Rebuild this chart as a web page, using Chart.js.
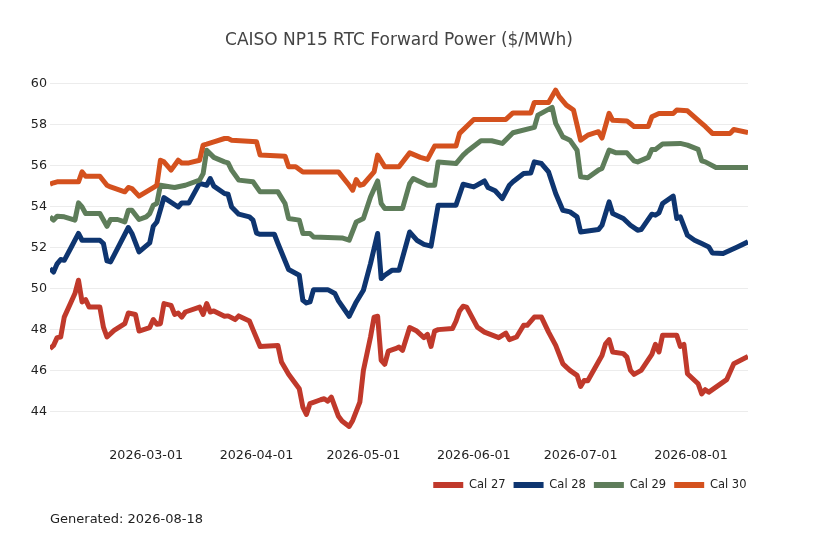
<!DOCTYPE html>
<html><head><meta charset="utf-8">
<script src="https://cdn.jsdelivr.net/npm/chart.js@4.4.1/dist/chart.umd.min.js"></script>
<style>html,body{margin:0;padding:0;background:#fff;}</style>
</head><body>
<canvas id="c" width="818" height="545"></canvas>
<script>
const titleText = "CAISO NP15 RTC Forward Power ($/MWh)";
const footText = "Generated: 2026-08-18";
const seriesNames = ["Cal 27", "Cal 28", "Cal 29", "Cal 30"];
const seriesColors = ["#c0392b", "#0e3570", "#5e7d5a", "#d4511e"];
const xTickDates = ["2026-03-01","2026-04-01","2026-05-01","2026-06-01","2026-07-01","2026-08-01"];
const yTickValues = [44, 46, 48, 50, 52, 54, 56, 58, 60];
const xStart = "2026-02-02", xEnd = "2026-08-17";

const cal27 = [["2026-02-02",47.06],["2026-02-03",47.22],["2026-02-04",47.6],["2026-02-05",47.63],["2026-02-06",48.6],["2026-02-09",49.75],["2026-02-10",50.4],["2026-02-11",49.34],["2026-02-12",49.45],["2026-02-13",49.09],["2026-02-16",49.09],["2026-02-17",48.11],["2026-02-18",47.63],["2026-02-20",47.95],["2026-02-23",48.28],["2026-02-24",48.8],["2026-02-26",48.73],["2026-02-27",47.92],["2026-03-02",48.09],["2026-03-03",48.48],["2026-03-04",48.25],["2026-03-05",48.28],["2026-03-06",49.26],["2026-03-08",49.17],["2026-03-09",48.73],["2026-03-10",48.8],["2026-03-11",48.6],["2026-03-12",48.85],["2026-03-16",49.09],["2026-03-17",48.73],["2026-03-18",49.26],["2026-03-19",48.85],["2026-03-20",48.9],["2026-03-23",48.64],["2026-03-24",48.66],["2026-03-26",48.48],["2026-03-27",48.66],["2026-03-30",48.41],["2026-03-31",47.99],["2026-04-02",47.17],["2026-04-07",47.22],["2026-04-08",46.41],["2026-04-10",45.81],["2026-04-13",45.11],["2026-04-14",44.21],["2026-04-15",43.85],["2026-04-16",44.38],["2026-04-19",44.57],["2026-04-20",44.62],["2026-04-21",44.5],["2026-04-22",44.7],["2026-04-24",43.76],["2026-04-25",43.53],["2026-04-27",43.27],["2026-04-28",43.56],["2026-04-30",44.45],["2026-05-01",46.0],["2026-05-03",47.63],["2026-05-04",48.6],["2026-05-05",48.64],["2026-05-06",46.49],["2026-05-07",46.3],["2026-05-08",46.94],["2026-05-10",47.06],["2026-05-11",47.14],["2026-05-12",46.98],["2026-05-14",48.09],["2026-05-16",47.92],["2026-05-18",47.6],["2026-05-19",47.76],["2026-05-20",47.17],["2026-05-21",47.92],["2026-05-22",47.99],["2026-05-26",48.04],["2026-05-27",48.4],["2026-05-28",48.9],["2026-05-29",49.13],["2026-05-30",49.09],["2026-06-02",48.11],["2026-06-04",47.87],["2026-06-08",47.6],["2026-06-10",47.82],["2026-06-11",47.5],["2026-06-13",47.63],["2026-06-15",48.2],["2026-06-16",48.2],["2026-06-18",48.6],["2026-06-20",48.6],["2026-06-22",47.87],["2026-06-24",47.22],["2026-06-26",46.33],["2026-06-27",46.16],["2026-06-28",46.0],["2026-06-30",45.76],["2026-07-01",45.22],["2026-07-02",45.51],["2026-07-03",45.5],["2026-07-07",46.73],["2026-07-08",47.3],["2026-07-09",47.5],["2026-07-10",46.9],["2026-07-13",46.82],["2026-07-14",46.65],["2026-07-15",46.0],["2026-07-16",45.81],["2026-07-18",46.0],["2026-07-21",46.78],["2026-07-22",47.27],["2026-07-23",46.9],["2026-07-24",47.71],["2026-07-27",47.71],["2026-07-28",47.71],["2026-07-29",47.17],["2026-07-30",47.27],["2026-07-31",45.84],["2026-08-03",45.35],["2026-08-04",44.86],["2026-08-05",45.06],["2026-08-06",44.94],["2026-08-11",45.55],["2026-08-13",46.33],["2026-08-17",46.68]];

const cal28 = [["2026-02-02",50.97],["2026-02-03",50.8],["2026-02-04",51.2],["2026-02-05",51.41],["2026-02-06",51.37],["2026-02-08",52.02],["2026-02-10",52.68],["2026-02-11",52.35],["2026-02-16",52.35],["2026-02-17",52.19],["2026-02-18",51.34],["2026-02-19",51.29],["2026-02-20",51.62],["2026-02-24",52.97],["2026-02-25",52.68],["2026-02-27",51.78],["2026-03-02",52.22],["2026-03-03",53.03],["2026-03-04",53.24],["2026-03-06",54.43],["2026-03-10",53.97],["2026-03-11",54.17],["2026-03-13",54.17],["2026-03-16",55.12],["2026-03-18",55.03],["2026-03-19",55.36],["2026-03-20",54.99],["2026-03-23",54.63],["2026-03-24",54.59],["2026-03-25",53.97],["2026-03-27",53.62],["2026-03-30",53.49],["2026-03-31",53.33],["2026-04-01",52.7],["2026-04-02",52.64],["2026-04-06",52.64],["2026-04-07",52.19],["2026-04-10",50.92],["2026-04-13",50.64],["2026-04-14",49.42],["2026-04-15",49.29],["2026-04-16",49.34],["2026-04-17",49.94],["2026-04-21",49.94],["2026-04-23",49.75],["2026-04-24",49.39],["2026-04-27",48.64],["2026-04-29",49.34],["2026-05-01",49.91],["2026-05-03",51.21],["2026-05-05",52.68],["2026-05-06",50.48],["2026-05-07",50.64],["2026-05-09",50.88],["2026-05-11",50.88],["2026-05-14",52.75],["2026-05-16",52.35],["2026-05-18",52.15],["2026-05-20",52.06],["2026-05-22",54.06],["2026-05-27",54.06],["2026-05-29",55.08],["2026-06-01",54.95],["2026-06-04",55.24],["2026-06-05",54.92],["2026-06-07",54.76],["2026-06-09",54.38],["2026-06-11",55.03],["2026-06-12",55.2],["2026-06-15",55.6],["2026-06-17",55.63],["2026-06-18",56.17],["2026-06-20",56.09],["2026-06-22",55.68],["2026-06-24",54.63],["2026-06-26",53.81],["2026-06-28",53.73],["2026-06-30",53.49],["2026-07-01",52.75],["2026-07-06",52.87],["2026-07-07",53.08],["2026-07-09",54.22],["2026-07-10",53.65],["2026-07-13",53.41],["2026-07-15",53.08],["2026-07-17",52.84],["2026-07-18",52.87],["2026-07-21",53.62],["2026-07-22",53.57],["2026-07-23",53.68],["2026-07-24",54.14],["2026-07-27",54.5],["2026-07-28",53.41],["2026-07-29",53.49],["2026-07-31",52.59],["2026-08-02",52.35],["2026-08-04",52.19],["2026-08-06",52.02],["2026-08-07",51.73],["2026-08-10",51.7],["2026-08-12",51.86],["2026-08-14",52.02],["2026-08-17",52.27]];

const cal29 = [["2026-02-02",53.49],["2026-02-03",53.33],["2026-02-04",53.52],["2026-02-06",53.49],["2026-02-09",53.33],["2026-02-10",54.17],["2026-02-11",53.97],["2026-02-12",53.65],["2026-02-16",53.65],["2026-02-18",53.03],["2026-02-19",53.36],["2026-02-21",53.36],["2026-02-23",53.24],["2026-02-24",53.81],["2026-02-25",53.81],["2026-02-27",53.36],["2026-03-01",53.49],["2026-03-02",53.65],["2026-03-03",54.06],["2026-03-04",54.14],["2026-03-05",55.03],["2026-03-08",54.95],["2026-03-09",54.92],["2026-03-12",55.03],["2026-03-16",55.28],["2026-03-17",55.6],["2026-03-18",56.74],["2026-03-20",56.39],["2026-03-23",56.17],["2026-03-24",56.12],["2026-03-25",55.77],["2026-03-27",55.28],["2026-03-31",55.2],["2026-04-02",54.71],["2026-04-07",54.71],["2026-04-09",54.14],["2026-04-10",53.41],["2026-04-13",53.33],["2026-04-14",52.68],["2026-04-16",52.68],["2026-04-17",52.51],["2026-04-25",52.46],["2026-04-27",52.35],["2026-04-29",53.24],["2026-05-01",53.41],["2026-05-03",54.46],["2026-05-05",55.24],["2026-05-06",54.14],["2026-05-07",53.9],["2026-05-12",53.9],["2026-05-14",55.12],["2026-05-15",55.36],["2026-05-19",55.03],["2026-05-21",55.03],["2026-05-22",56.17],["2026-05-27",56.09],["2026-05-29",56.5],["2026-05-30",56.66],["2026-06-03",57.2],["2026-06-06",57.2],["2026-06-09",57.07],["2026-06-12",57.59],["2026-06-18",57.85],["2026-06-19",58.45],["2026-06-23",58.83],["2026-06-24",58.05],["2026-06-26",57.39],["2026-06-27",57.31],["2026-06-28",57.23],["2026-06-30",56.74],["2026-07-01",55.44],["2026-07-03",55.4],["2026-07-06",55.77],["2026-07-07",55.85],["2026-07-09",56.74],["2026-07-11",56.61],["2026-07-14",56.61],["2026-07-16",56.22],["2026-07-17",56.17],["2026-07-20",56.39],["2026-07-21",56.78],["2026-07-22",56.78],["2026-07-24",57.04],["2026-07-29",57.07],["2026-07-31",56.99],["2026-08-03",56.78],["2026-08-04",56.22],["2026-08-05",56.17],["2026-08-08",55.9],["2026-08-17",55.9]];

const cal30 = [["2026-02-02",55.08],["2026-02-03",55.15],["2026-02-04",55.2],["2026-02-10",55.2],["2026-02-11",55.68],["2026-02-12",55.47],["2026-02-16",55.47],["2026-02-18",55.03],["2026-02-19",54.95],["2026-02-23",54.71],["2026-02-24",54.92],["2026-02-25",54.87],["2026-02-27",54.5],["2026-03-01",54.71],["2026-03-03",54.92],["2026-03-04",55.03],["2026-03-05",56.25],["2026-03-06",56.17],["2026-03-08",55.77],["2026-03-10",56.25],["2026-03-11",56.12],["2026-03-13",56.12],["2026-03-16",56.25],["2026-03-17",56.99],["2026-03-18",57.04],["2026-03-20",57.15],["2026-03-23",57.31],["2026-03-24",57.31],["2026-03-25",57.23],["2026-04-01",57.15],["2026-04-02",56.5],["2026-04-09",56.45],["2026-04-10",55.93],["2026-04-12",55.93],["2026-04-14",55.68],["2026-04-24",55.68],["2026-04-27",55.03],["2026-04-28",54.79],["2026-04-29",55.31],["2026-04-30",55.03],["2026-05-01",55.08],["2026-05-04",55.68],["2026-05-05",56.5],["2026-05-07",55.93],["2026-05-11",55.93],["2026-05-14",56.61],["2026-05-17",56.39],["2026-05-19",56.29],["2026-05-21",56.94],["2026-05-27",56.94],["2026-05-28",57.56],["2026-06-01",58.24],["2026-06-10",58.24],["2026-06-12",58.56],["2026-06-17",58.56],["2026-06-18",59.07],["2026-06-22",59.07],["2026-06-24",59.67],["2026-06-25",59.35],["2026-06-27",58.94],["2026-06-29",58.7],["2026-07-01",57.23],["2026-07-03",57.47],["2026-07-06",57.64],["2026-07-07",57.33],["2026-07-09",58.54],["2026-07-10",58.2],["2026-07-14",58.17],["2026-07-16",57.9],["2026-07-20",57.9],["2026-07-21",58.37],["2026-07-23",58.53],["2026-07-27",58.53],["2026-07-28",58.7],["2026-07-31",58.66],["2026-08-04",58.05],["2026-08-05",57.9],["2026-08-07",57.56],["2026-08-12",57.56],["2026-08-13",57.75],["2026-08-17",57.6]];

const seriesData = [cal27, cal28, cal29, cal30];
const toTs = d => Date.parse(d + "T00:00:00Z");
const FONT = "'DejaVu Sans', Verdana, sans-serif";

const datasets = seriesData.map((s, i) => ({
  label: seriesNames[i],
  data: s.map(p => ({x: toTs(p[0]), y: p[1]})),
  borderColor: seriesColors[i],
  backgroundColor: seriesColors[i],
  borderWidth: 5,
  pointRadius: 0,
  pointStyle: 'line',
  tension: 0,
  borderJoinStyle: 'round',
  borderCapStyle: 'butt',
  order: seriesData.length - i,
  fill: false
}));

const legendShift = {
  id: 'legendShift',
  afterLayout(chart) {
    const lg = chart.legend;
    if (lg) {
      lg.left += 7; lg.right += 7;
      if (lg.lineWidths && lg.lineWidths.length) lg.lineWidths[0] += 0.5;
    }
  }
};

new Chart(document.getElementById('c'), {
  type: 'line',
  data: { datasets },
  plugins: [legendShift],
  options: {
    responsive: false,
    animation: false,
    layout: { padding: { left: 0, right: 70, top: 0, bottom: 0 } },
    plugins: {
      title: {
        display: true, text: titleText, fullSize: false,
        color: '#444', font: { family: FONT, size: 17, weight: 'normal' },
        padding: { top: 30, bottom: 22.7 }
      },
      subtitle: {
        display: true, text: footText, position: 'bottom', align: 'start', fullSize: false,
        color: '#222', font: { family: FONT, size: 13, weight: 'normal' },
        padding: { top: 11.5, bottom: 17.2 }
      },
      legend: {
        position: 'bottom', align: 'end',
        labels: {
          usePointStyle: true, pointStyle: 'line', pointStyleWidth: 30,
          boxWidth: 30, boxHeight: 6, padding: 8, color: '#222',
          font: { family: FONT, size: 11.5 },
          sort: (a, b) => a.datasetIndex - b.datasetIndex,
          generateLabels: chart => Chart.defaults.plugins.legend.labels.generateLabels(chart)
            .map(l => Object.assign(l, { lineWidth: 6, lineCap: 'butt', lineJoin: 'miter', pointStyle: 'line', strokeStyle: l.fillStyle }))
        }
      },
      tooltip: { enabled: false }
    },
    scales: {
      x: {
        type: 'linear',
        min: toTs(xStart), max: toTs(xEnd),
        grid: { display: false, drawTicks: false },
        border: { display: false },
        afterBuildTicks: axis => { axis.ticks = xTickDates.map(d => ({ value: toTs(d) })); },
        afterFit: axis => { axis.height = 29; },
        ticks: {
          padding: 6, color: '#222', maxRotation: 0, autoSkip: false,
          font: { family: FONT, size: 12.7 },
          callback: v => new Date(v).toISOString().slice(0, 10)
        }
      },
      y: {
        type: 'linear', min: 42.5, max: 60.5,
        grid: { color: '#ececec', lineWidth: 1, drawTicks: false },
        border: { display: false },
        afterBuildTicks: axis => { axis.ticks = yTickValues.map(v => ({ value: v })); },
        afterFit: axis => { axis.width = 50; },
        ticks: {
          padding: 3, color: '#222',
          font: { family: FONT, size: 12.7 },
          callback: v => String(v)
        }
      }
    }
  }
});
</script>
</body></html>
